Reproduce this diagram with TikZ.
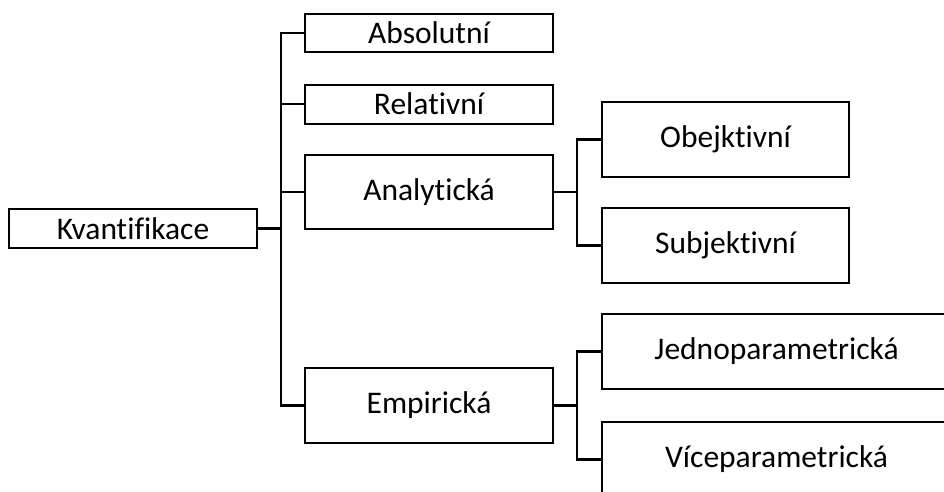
\documentclass[tikz,border=0pt]{standalone}
\usepackage{fontspec}
\setmainfont{Carlito}[Ligatures=NoCommon]
\begin{document}
\begin{tikzpicture}[x=1pt,y=-1pt,
  box/.style={draw=black, line width=2pt, fill=white, inner sep=0pt,
    font=\fontsize{31.5}{36}\selectfont},
  link/.style={draw=black, line width=2.5pt, line join=miter}]
\useasboundingbox (0,0) rectangle (944,491);
\clip (0,0) rectangle (944,491);
\fill[white] (0,0) rectangle (944,491);

% tree nodes
\node[box, minimum width=248pt, minimum height=39pt] (k)   at (133,228.5) {Kvantifikace};
\node[box, minimum width=248pt, minimum height=38pt] (abs) at (429,33)    {Absolutní};
\node[box, minimum width=248pt, minimum height=39pt] (rel) at (429,104)   {Relativní};
\node[box, minimum width=248pt, minimum height=74pt] (ana) at (429,192)   {Analytická};
\node[box, minimum width=248pt, minimum height=75pt] (emp) at (429,405.5) {Empirická};
\node[box, minimum width=247pt, minimum height=75pt] (obj) at (725.5,139.5) {Obejktivní};
\node[box, minimum width=247pt, minimum height=75pt] (sub) at (725.5,245.5) {Subjektivní};
\node[box, minimum width=349pt, minimum height=75pt] (jed) at (776.5,351.5) {Jednoparametrická};
\node[box, minimum width=349pt, minimum height=75pt] (vic) at (776.5,459.5) {Víceparametrická};

% bracket spines
\coordinate (t)  at (281,0);
\coordinate (ta) at (577,0);

% first level
\draw[link] (k.east) -- (k.east -| t);
\draw[link] (abs.west) -- (abs.west -| t) -- (emp.west -| t) -- (emp.west);
\draw[link] (rel.west) -- (rel.west -| t);
\draw[link] (ana.west) -- (ana.west -| t);

% second level: analytical
\draw[link] (ana.east) -- (ana.east -| ta);
\draw[link] (obj.west) -- (obj.west -| ta) -- (sub.west -| ta) -- (sub.west);

% second level: empirical
\draw[link] (emp.east) -- (emp.east -| ta);
\draw[link] (jed.west) -- (jed.west -| ta) -- (vic.west -| ta) -- (vic.west);
\end{tikzpicture}
\end{document}
